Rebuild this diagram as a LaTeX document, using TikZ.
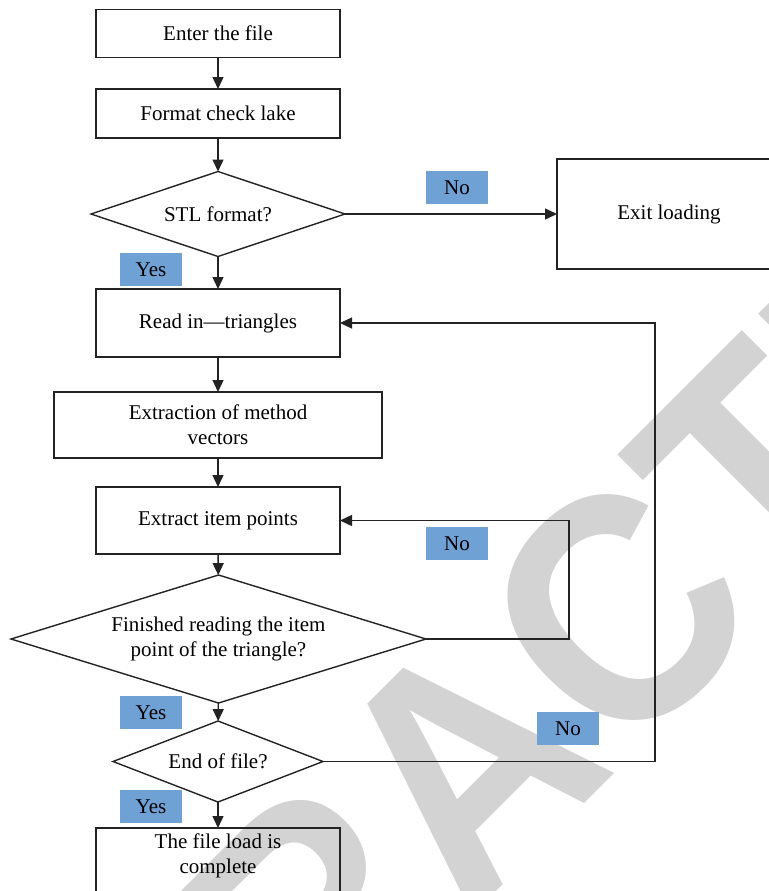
\documentclass[tikz,border=0pt]{standalone}
\usepackage{fontspec}
\usepackage{graphicx}
\setmainfont{Liberation Serif}
\newfontfamily\wmfont{Liberation Sans}
\usetikzlibrary{shapes.geometric,arrows.meta}
\definecolor{lblue}{RGB}{112,161,213}
\definecolor{wmgray}{RGB}{211,211,211}
\definecolor{ln}{RGB}{35,35,35}
\begin{document}
\begin{tikzpicture}[x=1pt,y=-1pt,
  font=\fontsize{21}{25}\selectfont,
  box/.style={draw=ln, line width=1.4pt, rectangle, minimum width=244pt, inner sep=0pt, outer sep=0pt, align=center},
  dia/.style={draw=ln, line width=1.4pt, diamond, inner sep=0pt, outer sep=0pt, align=center},
  tag/.style={fill=lblue, minimum width=62pt, minimum height=33pt, inner sep=0pt},
  arr/.style={draw=ln, line width=1.4pt, -{Triangle[length=12pt,width=11pt]}},
  lin/.style={draw=ln, line width=1.4pt},
  wmark/.style={text=wmgray, inner sep=0pt, font=\wmfont\bfseries\fontsize{325}{325}\selectfont}]
\useasboundingbox (0,0) rectangle (768,891);
% watermark
\node[wmark, rotate=45] (wm) at (465,765) {\scalebox{0.92}[1]{RETRACTED}};
% nodes
\node[box, minimum height=48pt] (b1) at (218,33.5) {Enter the file};
\node[box, minimum height=49pt] (b2) at (218,113.5) {Format check lake};
\node[dia, minimum width=254pt, minimum height=85pt, aspect=3] (d1) at (218,214) {STL format?};
\node[box, minimum width=224pt, minimum height=110pt] (exit) at (669,214) {Exit loading};
\node[box, minimum height=68pt] (b3) at (218,323) {Read in—triangles};
\node[box, minimum width=328pt, minimum height=66pt] (b4) at (218,425) {Extraction of method\\vectors};
\node[box, minimum height=67pt] (b5) at (218,520.5) {Extract item points};
\node[dia, minimum width=415pt, minimum height=128pt, aspect=3.24] (d2) at (218.5,639) {Finished reading the item\\point of the triangle?};
\node[dia, minimum width=210pt, minimum height=81pt, aspect=2.6] (d3) at (218,761.5) {End of file?};
\node[box, draw=none, minimum height=56pt] (b6) at (218,856) {The file load is\\complete};
\draw[lin] (b6.north west) rectangle ([yshift=-30pt]b6.south east);
% tags
\node[tag] (no1) at (457,187.5) {No};
\node[tag] (yes1) at (151,269.5) {Yes};
\node[tag] (no2) at (457,543.5) {No};
\node[tag] (yes2) at (151,712.5) {Yes};
\node[tag] (no3) at (568,728.5) {No};
\node[tag] (yes3) at (151,806.5) {Yes};
% loop corners
\coordinate (l1) at (569,600);
\coordinate (l2) at (655,500);
% connectors
\draw[arr] (b1) -- (b2);
\draw[arr] (b2) -- (d1);
\draw[arr] (d1) -- (exit);
\draw[arr] (d1) -- (b3);
\draw[arr] (b3) -- (b4);
\draw[arr] (b4) -- (b5);
\draw[arr] (b5) -- (d2);
\draw[arr] (d2) -- (d3);
\draw[arr] (d3) -- (b6);
\draw[arr] (d2.east) -| (l1) |- (b5.east);
\draw[arr] (d3.east) -| (l2) |- (b3.east);
\end{tikzpicture}
\end{document}
